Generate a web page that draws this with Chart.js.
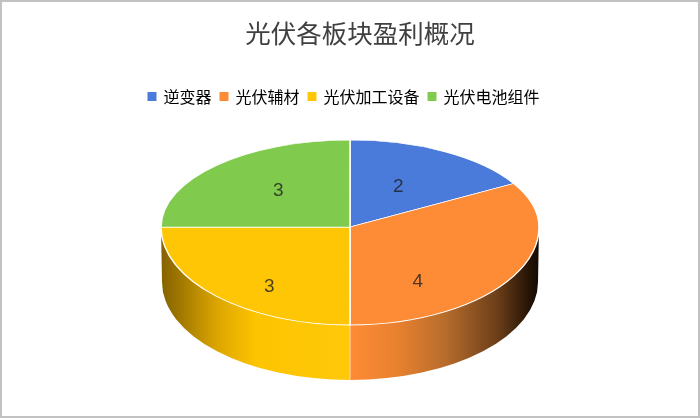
<!DOCTYPE html>
<html>
<head>
<meta charset="utf-8">
<script src="https://cdn.jsdelivr.net/npm/chart.js@4"></script>
<style>
html,body{margin:0;padding:0;background:#fff;width:700px;height:420px;overflow:hidden}
#c{position:absolute;left:0;top:0}
#frame{position:absolute;left:0;top:0;width:700px;height:418px;box-sizing:border-box;border:2px solid #c2c2c2;pointer-events:none}
</style>
</head>
<body>
<canvas id="c" width="700" height="420"></canvas>
<div id="frame"></div>
<script>
const titleText = '光伏各板块盈利概况';
const categories = ['逆变器', '光伏辅材', '光伏加工设备', '光伏电池组件'];
const values = [2, 4, 3, 3];
const colors = ['#4A7BDB', '#FE8B35', '#FFC606', '#80CB4E'];

const view = {cx: 350, cy: 227, rx: 189, ryBack: 87, ryFront: 98, depth: 55, bottomRx: 188};
const labelNudges = [[1, -3], [-14, 30], [-14, 25], [-5, -5]];
const titleShift = 10;
const legendShift = -6;
const sideStops = [
  null,
  [[0, '#FE8B35'], [0.25, '#E8812F'], [0.5, '#B86D2C'], [0.78, '#6C3E19'], [0.95, '#241305'], [1, '#140A02']],
  [[0, '#846200'], [0.1, '#A07800'], [0.3, '#DDA600'], [0.5, '#FDC400'], [1, '#FFC90A']],
  null
];

const pie3d = {
  id: 'pie3d',
  afterLayout(chart) {
    chart.titleBlock.left += titleShift;
    chart.titleBlock.right += titleShift;
    chart.legend.left += legendShift;
    chart.legend.right += legendShift;
  },
  beforeDatasetDraw(chart, args) {
    const ctx = chart.ctx;
    const arcs = args.meta.data;
    const v = view;
    // side walls: only the front half (0..PI in canvas angles) shows
    arcs.forEach((arc, i) => {
      const p = arc.getProps(['startAngle', 'endAngle']);
      const a0 = Math.max(p.startAngle, 0), a1 = Math.min(p.endAngle, Math.PI);
      if (a1 <= a0 || !sideStops[i]) return;
      const xs = [a0, a1].map(a => v.cx + v.rx * Math.cos(a));
      const x0 = Math.min(xs[0], xs[1]), x1 = Math.max(xs[0], xs[1]);
      const g = ctx.createLinearGradient(x0, 0, x1, 0);
      sideStops[i].forEach(s => g.addColorStop(s[0], s[1]));
      ctx.save();
      ctx.beginPath();
      ctx.ellipse(v.cx, v.cy, v.rx, v.ryFront, 0, a0, a1);
      ctx.ellipse(v.cx, v.cy + v.depth, v.bottomRx, v.ryFront, 0, a1, a0, true);
      ctx.closePath();
      ctx.fillStyle = g;
      ctx.fill();
      ctx.restore();
    });
    // divider on the wall
    ctx.save();
    ctx.strokeStyle = 'rgba(255,235,205,0.8)';
    ctx.lineWidth = 1;
    ctx.beginPath();
    ctx.moveTo(v.cx, v.cy + v.ryFront);
    ctx.lineTo(v.cx, v.cy + v.ryFront + v.depth);
    ctx.stroke();
    ctx.restore();
    // top face: the library's own arcs, flattened (back half and front half differ: perspective)
    const R = arcs[0].outerRadius;
    const ox = arcs[0].x, oy = arcs[0].y;
    [[0, v.cy, v.ryBack], [v.cy, 420 - v.cy, v.ryFront]].forEach(([top, h, ry]) => {
      ctx.save();
      ctx.beginPath();
      ctx.rect(0, top, 700, h);
      ctx.clip();
      ctx.translate(v.cx, v.cy);
      ctx.scale(v.rx / R, ry / R);
      ctx.translate(-ox, -oy);
      arcs.forEach(a => a.draw(ctx));
      ctx.restore();
    });
    return false;
  },
  afterDatasetsDraw(chart) {
    const ctx = chart.ctx;
    const v = view;
    const arcs = chart.getDatasetMeta(0).data;
    ctx.save();
    ctx.font = '19px "Liberation Sans", Arial, sans-serif';
    ctx.fillStyle = 'rgba(30,30,30,0.8)';
    ctx.textAlign = 'center';
    ctx.textBaseline = 'middle';
    arcs.forEach((a, i) => {
      const c = a.getCenterPoint();
      const dy = c.y - a.y;
      const ry = dy < 0 ? v.ryBack : v.ryFront;
      const x = v.cx + (c.x - a.x) * v.rx / a.outerRadius + labelNudges[i][0];
      const y = v.cy + dy * ry / a.outerRadius + labelNudges[i][1];
      ctx.fillText(String(values[i]), x, y);
    });
    ctx.restore();
  }
};

new Chart(document.getElementById('c'), {
  type: 'pie',
  data: {
    labels: categories,
    datasets: [{
      data: values,
      backgroundColor: colors,
      borderColor: '#ffffff',
      borderWidth: 1.2
    }]
  },
  plugins: [pie3d],
  options: {
    responsive: false,
    animation: false,
    events: [],
    plugins: {
      tooltip: {enabled: false},
      title: {
        display: true,
        text: titleText,
        color: '#404040',
        font: {family: '"Noto Sans CJK SC"', size: 25.5, weight: 'normal'},
        padding: {top: 18, bottom: 31}
      },
      legend: {
        display: true,
        position: 'top',
        labels: {
          boxWidth: 7,
          boxHeight: 7,
          padding: 9,
          color: '#404040',
          font: {family: '"Noto Sans CJK SC"', size: 16},
          generateLabels(chart) {
            return categories.map((t, i) => ({
              text: t, fillStyle: colors[i], strokeStyle: colors[i], lineWidth: 2, index: i, hidden: false
            }));
          }
        }
      }
    }
  }
});
</script>
</body>
</html>
